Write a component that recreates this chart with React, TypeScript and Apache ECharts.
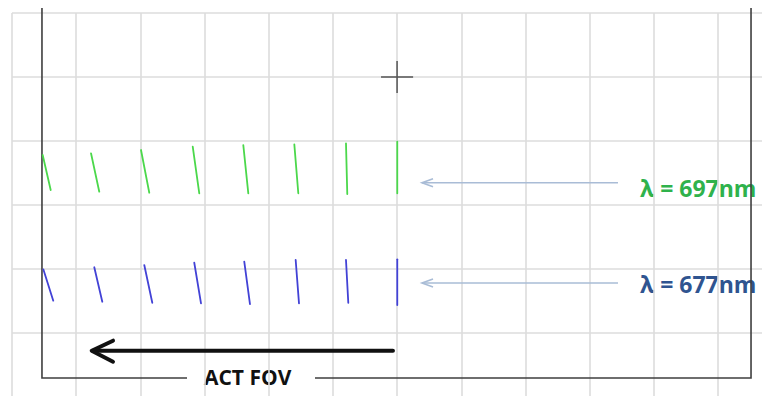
import React, { useEffect, useRef } from 'react';
import * as echarts from 'echarts';

// Positions are in grid-cell units: x grows to the right, y grows downward.
// Each slit image is [xTop, yTop, xBottom, yBottom].
const slit697: number[][] = [
  [0.478, 2.219, 0.603, 2.766],
  [1.231, 2.192, 1.36, 2.792],
  [2.01, 2.141, 2.139, 2.808],
  [2.816, 2.089, 2.918, 2.817],
  [3.604, 2.063, 3.682, 2.817],
  [4.399, 2.052, 4.461, 2.817],
  [5.204, 2.036, 5.224, 2.828],
  [6.003, 2.011, 6.003, 2.817],
];

const slit677: number[][] = [
  [0.488, 4.005, 0.643, 4.495],
  [1.282, 3.973, 1.407, 4.511],
  [2.061, 3.938, 2.186, 4.527],
  [2.84, 3.902, 2.945, 4.536],
  [3.619, 3.886, 3.708, 4.547],
  [4.42, 3.859, 4.472, 4.536],
  [5.204, 3.859, 5.24, 4.527],
  [6.003, 3.848, 6.003, 4.563],
];

// Detector frame: left, right, top and bottom edges, bottom split around the caption
const frameLeft = 0.467;
const frameRight = 11.515;
const frameTop = -0.078;
const frameBottom = 5.703;
const captionGap = [2.727, 4.721];

// Across-track direction arrow: [xStart, xEnd, y] and its open head
const fovArrowShaft = [5.936, 1.262, 5.277];
const fovArrowHead = [[1.574, 5.12], [1.242, 5.277], [1.574, 5.448]];

// Pointer arrows to the wavelength labels: [xStart, xEnd, y]
const pointers: number[][] = [
  [9.442, 6.388, 2.652],
  [9.442, 6.388, 4.219],
];
const pointerHeadLength = 0.172;
const pointerHeadHalf = 0.0625;

// Optical axis reference cross
const crossCenter = [6, 1];
const crossHalf = 0.25;

const wavelengthLabels = ['λ = 697nm', 'λ = 677nm'];
const caption = 'ACT FOV';

// Visible extent of the grid, in cells
const xExtent = 11.686;
const yExtent = 5.984;

const segs = (rows: number[][]) =>
  rows.map((r) => ({ coords: [[r[0], r[1]], [r[2], r[3]]] }));

export default function App() {
  const ref = useRef<HTMLDivElement>(null);

  useEffect(() => {
    if (!ref.current) return;
    const chart = echarts.init(ref.current, undefined, { renderer: 'svg' });

    const pointerData: any[] = [];
    pointers.forEach(([x0, x1, y]) => {
      pointerData.push({ coords: [[x0, y], [x1, y]] });
      pointerData.push({
        coords: [
          [x1 + pointerHeadLength, y - pointerHeadHalf],
          [x1, y],
          [x1 + pointerHeadLength, y + pointerHeadHalf],
        ],
      });
    });

    const lineSeries = (color: string, width: number, data: any[], extra: any = {}) => ({
      type: 'lines',
      coordinateSystem: 'cartesian2d',
      polyline: true,
      silent: true,
      clip: false,
      lineStyle: { color, width, opacity: 1, ...extra },
      data,
    });

    const split = {
      show: true,
      showMinLine: true,
      showMaxLine: false,
      lineStyle: { color: '#dcdcdc', width: 1.6 },
    };

    chart.setOption({
      animation: false,
      backgroundColor: '#ffffff',
      grid: { left: 12, top: 13, right: 0, bottom: 0, show: false },
      xAxis: {
        type: 'value',
        min: 0,
        max: xExtent,
        interval: 1,
        axisLine: { show: false },
        axisTick: { show: false },
        axisLabel: { show: false },
        splitLine: split,
      },
      yAxis: {
        type: 'value',
        inverse: true,
        min: 0,
        max: yExtent,
        interval: 1,
        axisLine: { show: false },
        axisTick: { show: false },
        axisLabel: { show: false },
        splitLine: split,
      },
      series: [
        lineSeries('#3f3f3f', 1.6, [
          { coords: [[frameLeft, frameTop], [frameLeft, frameBottom], [captionGap[0], frameBottom]] },
          { coords: [[captionGap[1], frameBottom], [frameRight, frameBottom], [frameRight, frameTop]] },
        ]),
        lineSeries('#4bd84b', 1.8, segs(slit697), { cap: 'round' }),
        lineSeries('#4242d6', 1.8, segs(slit677), { cap: 'round' }),
        lineSeries('#a9bcd6', 1.6, pointerData),
        lineSeries(
          '#111111',
          4,
          [
            { coords: [[fovArrowShaft[0], fovArrowShaft[2]], [fovArrowShaft[1], fovArrowShaft[2]]] },
            { coords: fovArrowHead },
          ],
          { cap: 'round', join: 'round' }
        ),
        lineSeries('#555555', 1.5, [
          { coords: [[crossCenter[0] - crossHalf, crossCenter[1]], [crossCenter[0] + crossHalf, crossCenter[1]]] },
          { coords: [[crossCenter[0], crossCenter[1] - crossHalf], [crossCenter[0], crossCenter[1] + crossHalf]] },
        ]),
      ],
      graphic: [
        {
          type: 'text',
          left: 640,
          top: 176,
          style: {
            text: wavelengthLabels[0],
            font: 'bold 23px "Open Sans", sans-serif',
            fill: '#2fb24c',
          },
        },
        {
          type: 'text',
          left: 640,
          top: 272,
          style: {
            text: wavelengthLabels[1],
            font: 'bold 23px "Open Sans", sans-serif',
            fill: '#2f5490',
          },
        },
        {
          type: 'text',
          left: 204,
          top: 366,
          style: {
            text: caption,
            font: 'bold 21px "Open Sans", sans-serif',
            fill: '#111111',
          },
        },
      ],
    });

    return () => chart.dispose();
  }, []);

  return (
    <div
      ref={ref}
      style={{ position: 'fixed', left: 0, top: 0, width: 762, height: 396, background: '#fff' }}
    />
  );
}
